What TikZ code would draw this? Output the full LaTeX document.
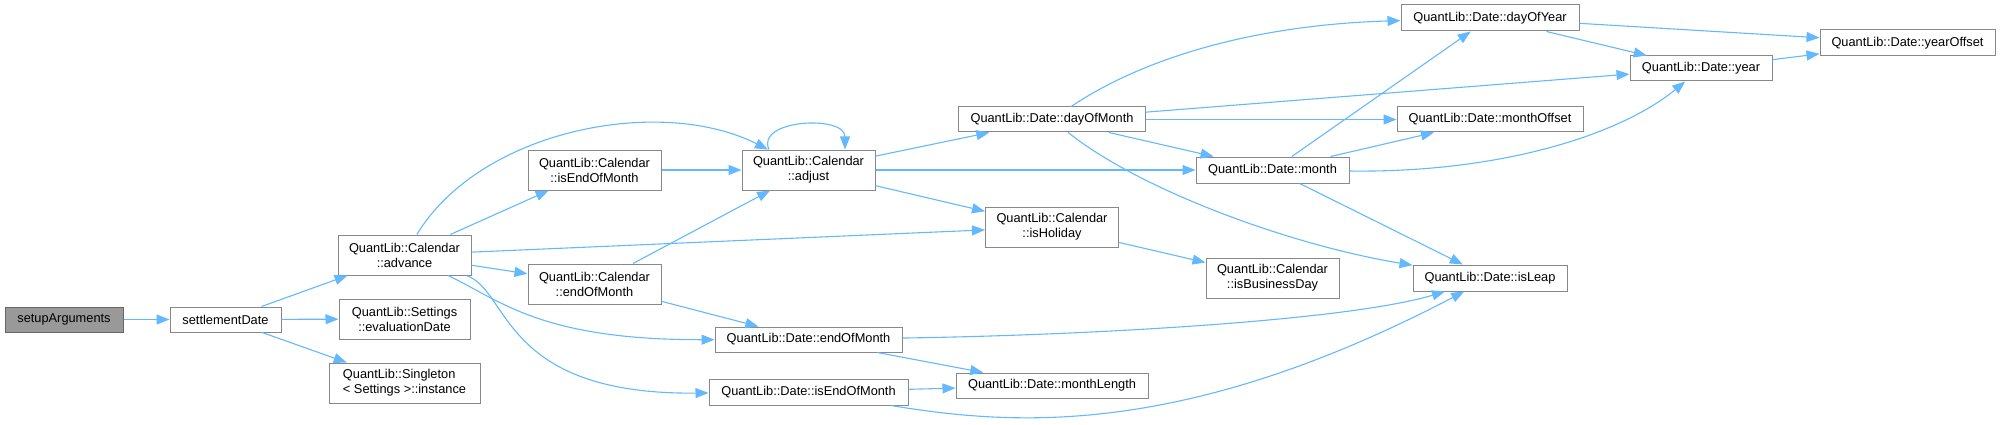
\documentclass[tikz,border=0pt]{standalone}
\usepackage{fontspec}
\setmainfont{Liberation Sans}
\usetikzlibrary{arrows.meta}
\definecolor{edgeblue}{HTML}{63B8FF}
\definecolor{boxline}{HTML}{888888}
\begin{document}
\begin{tikzpicture}[
    x=1pt, y=-1pt,
    fn/.style={rectangle, draw=boxline, fill=white, line width=1pt, inner sep=0pt,
               minimum height=25pt, text centered, align=center,
               font=\fontsize{12.8}{15}\selectfont},
    fntwo/.style={fn, minimum height=40pt},
    root/.style={fn, fill=black!40, draw=black!60},
    edge/.style={draw=edgeblue, line width=1.1pt, -{Triangle[length=13pt,width=10pt]}}
]
\useasboundingbox (0,0) rectangle (2004,425);

% Column 1-2
\node[root, minimum width=118pt] (setup) at (64,319.5) {setupArguments};
\node[fn, minimum width=111pt] (settle) at (225.5,319.5) {settlementDate};

% Column 3
\node[fntwo, minimum width=133pt] (advance) at (404.5,255) {QuantLib::Calendar\\::advance};
\node[fntwo, minimum width=131pt] (evaldate) at (404.5,319) {QuantLib::Settings\\::evaluationDate};
\node[fntwo, minimum width=151pt, align=left] (instance) at (404.5,383) {QuantLib::Singleton\\< Settings >::instance};

% Column 4
\node[fntwo, minimum width=133pt] (caliseom) at (594.5,170) {QuantLib::Calendar\\::isEndOfMonth};
\node[fntwo, minimum width=133pt] (caleom) at (594.5,284) {QuantLib::Calendar\\::endOfMonth};

% Column 5
\node[fntwo, minimum width=133pt] (adjust) at (808.5,170) {QuantLib::Calendar\\::adjust};
\node[fn, minimum width=187pt] (dateeom) at (808.5,339.5) {QuantLib::Date::endOfMonth};
\node[fn, minimum width=199pt, minimum height=26pt] (dateiseom) at (808.5,392) {QuantLib::Date::isEndOfMonth};

% Column 6
\node[fn, minimum width=187pt] (dom) at (1052,119.5) {QuantLib::Date::dayOfMonth};
\node[fntwo, minimum width=133pt] (holiday) at (1052,227) {QuantLib::Calendar\\::isHoliday};
\node[fn, minimum width=192pt] (mlength) at (1052,385.5) {QuantLib::Date::monthLength};

% Column 7
\node[fn, minimum width=153pt, minimum height=26pt] (month) at (1272.5,170) {QuantLib::Date::month};
\node[fntwo, minimum width=133pt] (busday) at (1272.5,278) {QuantLib::Calendar\\::isBusinessDay};

% Column 8
\node[fn, minimum width=178pt, minimum height=26pt] (doy) at (1490,18) {QuantLib::Date::dayOfYear};
\node[fn, minimum width=186pt] (moffset) at (1490,119.5) {QuantLib::Date::monthOffset};
\node[fn, minimum width=154pt, minimum height=26pt] (isleap) at (1490,278) {QuantLib::Date::isLeap};

% Column 9-10
\node[fn, minimum width=142pt] (year) at (1701,68.5) {QuantLib::Date::year};
\node[fn, minimum width=175pt, minimum height=26pt] (yoffset) at (1907.5,43) {QuantLib::Date::yearOffset};

% Calls
\draw[edge] (setup) -- (settle);
\draw[edge] (settle) -- (advance);
\draw[edge] (settle) -- (evaldate);
\draw[edge] (settle) -- (instance);

\draw[edge] (advance) .. controls (480,130) and (660,95) .. (adjust);
\draw[edge] (advance) -- (caliseom);
\draw[edge] (advance) -- (holiday);
\draw[edge] (advance) -- (caleom);
\draw[edge] (advance) .. controls (500,300) and (540,340) .. (dateeom);
\draw[edge] (advance) .. controls (510,290) and (500,395) .. (dateiseom);

\draw[edge] (caliseom) -- (adjust);
\draw[edge] (caleom) -- (adjust);
\draw[edge] (caleom) -- (dateeom);

\draw[edge] ([xshift=-39.5pt]adjust.north) .. controls +(-14,-30) and +(0,-35) .. ([xshift=36.5pt]adjust.north);
\draw[edge] (adjust) -- (dom);
\draw[edge] (adjust) -- (month);
\draw[edge] (adjust) -- (holiday);

\draw[edge] (dom) .. controls (1140,60) and (1250,25) .. (doy);
\draw[edge] (dom) -- (year);
\draw[edge] (dom) -- (moffset);
\draw[edge] (dom) -- (month);
\draw[edge] (dom) .. controls (1140,190) and (1290,245) .. (isleap);

\draw[edge] (month) -- (doy);
\draw[edge] (month) -- (moffset);
\draw[edge] (month) .. controls (1500,173) and (1620,135) .. (year);
\draw[edge] (month) -- (isleap);

\draw[edge] (holiday) -- (busday);

\draw[edge] (dateeom) .. controls (1100,335) and (1350,320) .. (isleap);
\draw[edge] (dateeom) -- (mlength);
\draw[edge] (dateiseom) -- (mlength);
\draw[edge] (dateiseom) .. controls (1010,425) and (1180,440) .. (isleap);

\draw[edge] (doy) -- (yoffset);
\draw[edge] (doy) -- (year);
\draw[edge] (year) -- (yoffset);

\end{tikzpicture}
\end{document}
